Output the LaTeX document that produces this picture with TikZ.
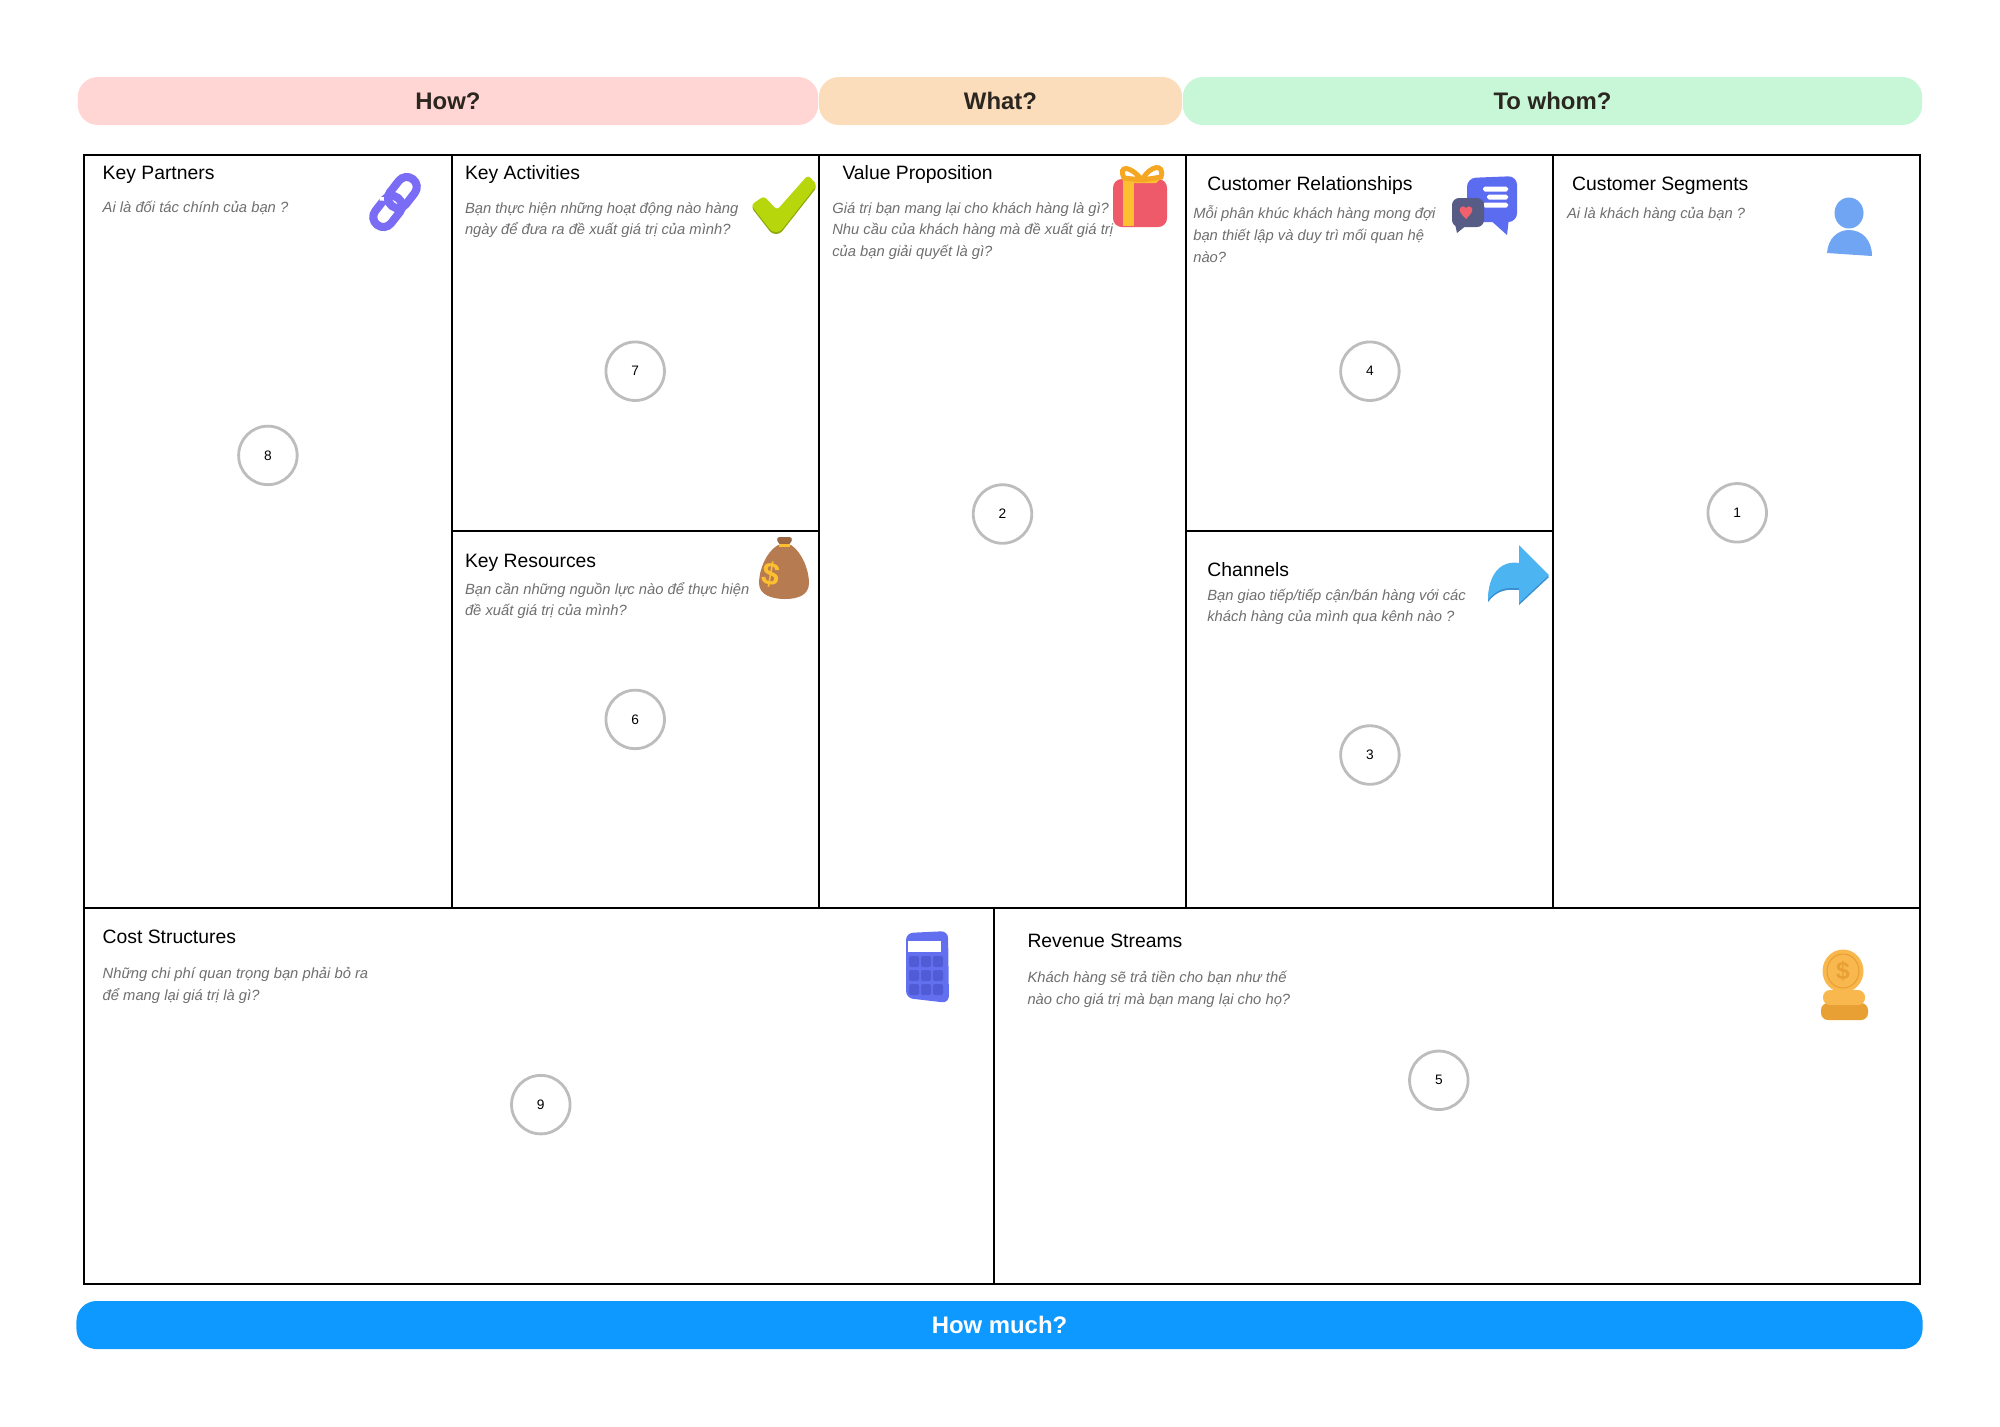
\documentclass[tikz,border=0pt]{standalone}
\usepackage{fontspec}
\setmainfont{Liberation Sans}
\definecolor{howpink}{HTML}{FFD6D3}
\definecolor{whatorange}{HTML}{FCDDBB}
\definecolor{whomgreen}{HTML}{C8F7D8}
\definecolor{muchblue}{HTML}{0D99FF}
\definecolor{headdark}{HTML}{2B2620}
\definecolor{descgray}{HTML}{6E6E6E}
\definecolor{ringgray}{HTML}{BDBDBD}
\definecolor{linkviolet}{HTML}{7B6CF6}
\definecolor{checklime}{HTML}{B7D60C}
\definecolor{checkdark}{HTML}{8FA80A}
\definecolor{giftred}{HTML}{EF5A6B}
\definecolor{giftgold}{HTML}{FBBF2F}
\definecolor{bowgold}{HTML}{F5A623}
\definecolor{chatblue}{HTML}{5B6CF0}
\definecolor{chatslate}{HTML}{565C85}
\definecolor{heartred}{HTML}{F0616D}
\definecolor{personblue}{HTML}{6FA5F2}
\definecolor{bagbrown}{HTML}{B77B52}
\definecolor{bagdark}{HTML}{9C6640}
\definecolor{arrowblue}{HTML}{4DB4F2}
\definecolor{arrowdark}{HTML}{3C8FD0}
\definecolor{calcblue}{HTML}{6270F0}
\definecolor{calcdark}{HTML}{4F5CD6}
\definecolor{coingold}{HTML}{F8B84E}
\definecolor{coindark}{HTML}{E89F33}
\tikzset{
  headbar/.style={rounded corners=5.7pt,minimum height=0.48cm,inner sep=0pt,text=headdark,font=\fontsize{6.8}{8}\selectfont\bfseries},
  gridline/.style={black,line width=0.7pt},
  celltitle/.style={anchor=base west,inner sep=0pt,font=\fontsize{5.5}{7}\selectfont},
  celldesc/.style={anchor=north west,inner sep=0pt,align=left,text=descgray,font=\fontsize{4.2}{6.2}\selectfont\itshape,execute at begin node=\strut},
  numring/.style={circle,draw=ringgray,line width=0.8pt,fill=white,minimum size=0.585cm,inner sep=0pt,font=\fontsize{3.9}{5}\selectfont},
}
\begin{document}
\begin{tikzpicture}[x=0.01cm,y=-0.01cm]
      \useasboundingbox (0,0) rectangle (2000,1426);
      \node[headbar,fill=howpink,minimum width=7.40cm] (how) at (448,101) {How?};
      \node[headbar,fill=whatorange,minimum width=3.63cm] (what) at (1000.5,101) {What?};
      \node[headbar,fill=whomgreen,minimum width=7.39cm] (whom) at (1552.5,101) {To whom?};
      \node[headbar,fill=muchblue,text=white,minimum width=18.45cm] (much) at (999.5,1325) {How much?};

      \draw[gridline] (84,155) rectangle (1920,1284);
      \draw[gridline] (84,908) -- (1920,908);
      \draw[gridline] (452,155) -- (452,908);
      \draw[gridline] (819,155) -- (819,908);
      \draw[gridline] (1186,155) -- (1186,908);
      \draw[gridline] (1553,155) -- (1553,908);
      \draw[gridline] (452,531) -- (819,531);
      \draw[gridline] (1186,531) -- (1553,531);
      \draw[gridline] (994,908) -- (994,1284);

      \node[celltitle] (partners) at (102,179) {Key Partners};
      \node[celltitle] (activities) at (464.3,179) {Key Activities};
      \node[celltitle] (value) at (841.8,179) {Value Proposition};
      \node[celltitle] (relations) at (1206.6,190) {Customer Relationships};
      \node[celltitle] (segments) at (1571.4,190) {Customer Segments};
      \node[celltitle] (resources) at (464.3,567) {Key Resources};
      \node[celltitle] (channels) at (1206.6,576) {Channels};
      \node[celltitle] (cost) at (102,943) {Cost Structures};
      \node[celltitle] (revenue) at (1026.8,947) {Revenue Streams};

      \node[celldesc] (partnersq) at (102,196.5) {Ai là đối tác chính của bạn ?};
      \node[celldesc] (activitiesq) at (464.3,201.5) {Bạn thực hiện những hoạt động nào hàng\\ngày để đưa ra đề xuất giá trị của mình?};
      \node[celldesc] (valueq) at (831.6,201.5) {Giá trị bạn mang lại cho khách hàng là gì?\\Nhu cầu của khách hàng mà đề xuất giá trị\\của bạn giải quyết là gì?};
      \node[celldesc] (relationsq) at (1192.6,205) {Mỗi phân khúc khách hàng mong đợi\\bạn thiết lập và duy trì mối quan hệ\\nào?};
      \node[celldesc] (segmentsq) at (1566.3,202.5) {Ai là khách hàng của bạn ?};
      \node[celldesc] (resourcesq) at (464.3,581.5) {Bạn cần những nguồn lực nào để thực hiện\\đề xuất giá trị của mình?};
      \node[celldesc] (channelsq) at (1206.6,588) {Bạn giao tiếp/tiếp cận/bán hàng với các\\khách hàng của mình qua kênh nào ?};
      \node[celldesc] (costq) at (102,967) {Những chi phí quan trọng bạn phải bỏ ra\\để mang lại giá trị là gì?};
      \node[celldesc] (revenueq) at (1026.8,970.5) {Khách hàng sẽ trả tiền cho bạn như thế\\nào cho giá trị mà bạn mang lại cho họ?};

      \node[numring] (n8) at (267.9,455.4) {8};
      \node[numring] (n7) at (635.2,371.2) {7};
      \node[numring] (n6) at (635.2,719.4) {6};
      \node[numring] (n2) at (1002.5,514) {2};
      \node[numring] (n4) at (1369.9,371.2) {4};
      \node[numring] (n3) at (1369.9,755) {3};
      \node[numring] (n1) at (1737.2,512.8) {1};
      \node[numring] (n9) at (540.8,1104.6) {9};
      \node[numring] (n5) at (1438.8,1080.3) {5};

      \begin{scope}[shift={(395,202)},rotate=52]
        \draw[linkviolet,line width=2.3pt,rounded corners=2.8pt] (-29,-10) rectangle (5,10);
        \draw[white,line width=1pt] (-7,-14) -- (-1,-6);
        \draw[linkviolet,line width=2.3pt,rounded corners=2.8pt] (-5,-10) rectangle (29,10);
      \end{scope}

      \fill[checkdark,rounded corners=1pt] (751,207) -- (764,198) -- (777,212) -- (808,177) -- (817,187) -- (780,234) -- (772,234) -- cycle;
      \fill[checklime,rounded corners=1pt] (751,205) -- (764,196) -- (777,210) -- (808,175) -- (817,185) -- (780,232) -- (772,232) -- cycle;

      \fill[giftred,rounded corners=2.5pt] (1113,179) rectangle (1167,227);
      \fill[giftgold] (1123,179) rectangle (1134,226);
      \fill[giftgold] (1134,179) -- (1160,179) -- (1156,183) -- (1134,183) -- cycle;
      \draw[bowgold,line width=1.4pt] (1142,180) .. controls (1130,165) and (1118,165) .. (1124,178) -- (1142,180);
      \draw[bowgold,line width=1.4pt] (1142,180) .. controls (1150,165) and (1165,163) .. (1161,177) -- (1142,180);

      \fill[chatblue] (1488,218) -- (1509,218) -- (1507,235) -- cycle;
      \fill[chatblue,rounded corners=2.5pt] (1467,178) -- (1517,176) -- (1517,222) -- (1467,222) -- cycle;
      \fill[white,rounded corners=0.5pt] (1483,186.5) rectangle (1508,191.5);
      \fill[white,rounded corners=0.5pt] (1487,194.5) rectangle (1508,199.5);
      \fill[white,rounded corners=0.5pt] (1483,202.5) rectangle (1508,207.5);
      \fill[chatslate] (1455,224) -- (1468,224) -- (1457,233) -- cycle;
      \fill[chatslate,rounded corners=2pt] (1452,198) rectangle (1484,227);
      \fill[heartred] (1466,219) .. controls (1460,213) and (1458,210) .. (1461,207) .. controls (1463,206) and (1465,206) .. (1466,208) .. controls (1467,206) and (1470,206) .. (1471,207) .. controls (1474,210) and (1472,213) .. (1466,219) -- cycle;

      \fill[personblue] (1849,213) ellipse [x radius=14.5,y radius=15.5];
      \fill[personblue] (1827,253) .. controls (1828,238) and (1838,230) .. (1849,230) .. controls (1862,230) and (1872,240) .. (1872,256) -- cycle;

      \fill[bagbrown] (778,545) .. controls (766,552) and (759,570) .. (759,583) .. controls (759,595) and (772,599) .. (785,599) .. controls (798,599) and (809,595) .. (809,583) .. controls (809,570) and (802,552) .. (791,545) -- cycle;
      \fill[bagdark,rounded corners=1pt] (776,537) -- (793,537) -- (790,545) -- (779,545) -- cycle;
      \fill[giftgold] (779,544) rectangle (790,546.5);
      \node[inner sep=0pt,rotate=-10,text=giftgold,font=\fontsize{9}{9}\selectfont\bfseries] (bagsign) at (771,575) {\$};

      \fill[arrowdark] (1549,577) -- (1519,547) -- (1519,565) .. controls (1500,562) and (1488,577) .. (1488,602) .. controls (1497,590) and (1507,589) .. (1519,590) -- (1519,605) -- cycle;
      \fill[arrowblue] (1549,575) -- (1519,545) -- (1519,563) .. controls (1500,560) and (1488,575) .. (1488,600) .. controls (1497,588) and (1507,587) .. (1519,588) -- (1519,603) -- cycle;

      \fill[calcblue,rounded corners=2pt] (906,933) -- (948,931) -- (949,1003) -- (906,998) -- cycle;
      \fill[white] (908,941) rectangle (941,952);
      \foreach \cx in {909,921,933} {
        \foreach \cy in {956,970,984} {
          \fill[calcdark,rounded corners=0.6pt] (\cx,\cy) rectangle +(10,11);
        }
      }

      \fill[coindark,rounded corners=2pt] (1821,1003) rectangle (1868,1020);
      \fill[coingold,rounded corners=2pt] (1823,990) rectangle (1865,1005);
      \fill[coingold] (1843,971) ellipse [x radius=20.5,y radius=21.5];
      \draw[coindark,line width=0.3pt] (1843,971) ellipse [x radius=16,y radius=17];
      \node[inner sep=0pt,text=coindark,font=\fontsize{7}{7}\selectfont\bfseries] (coinsign) at (1843,971) {\$};
    \end{tikzpicture}
\end{document}
